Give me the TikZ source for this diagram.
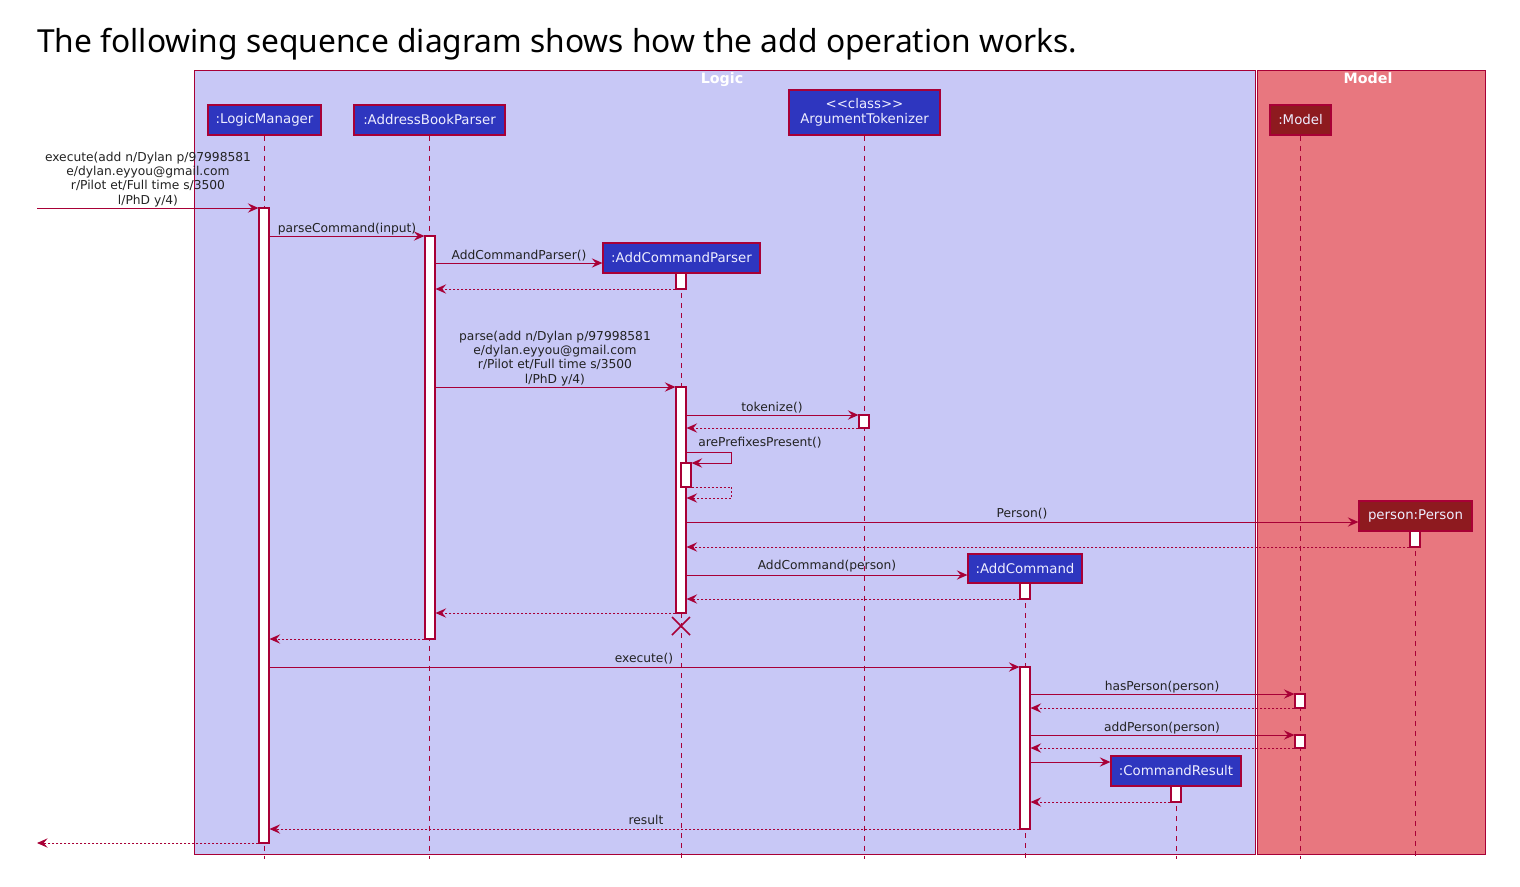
\documentclass[tikz,border=0pt]{standalone}
\usepackage{fontspec}
\setmainfont{DejaVu Sans}
\newfontfamily\titlefont{Noto Sans}
\usetikzlibrary{arrows.meta}
\definecolor{crim}{HTML}{A80036}
\definecolor{logicfill}{HTML}{C8C8F6}
\definecolor{modelfill}{HTML}{E8777F}
\definecolor{partblue}{HTML}{2E36BF}
\definecolor{partred}{HTML}{8E1A1F}
\definecolor{parttext}{HTML}{EEEEFF}
\definecolor{msgtext}{HTML}{222222}
\tikzset{
  frame/.style={draw=crim, line width=0.6pt, inner sep=0},
  framelbl/.style={text=white, font=\bfseries\fontsize{10.7}{12}\selectfont, inner sep=0, anchor=base},
  part/.style={draw=crim, fill=partblue, text=parttext, font=\fontsize{10}{11.5}\selectfont, inner sep=0, line width=0.9pt, align=center},
  actbox/.style={draw=crim, fill=white, minimum width=7.5pt, inner sep=0, line width=0.8pt},
  life/.style={crim, line width=0.75pt, dash pattern=on 3.75pt off 3.75pt},
  msg/.style={crim, line width=0.75pt, -{Stealth[length=8pt,width=7pt,inset=3pt]}},
  ret/.style={msg, dash pattern=on 1.5pt off 1.5pt},
  lbl/.style={font=\fontsize{9.2}{10.7}\selectfont, text=msgtext, inner sep=0, anchor=base, align=center},
  destroy/.style={crim, line width=1.2pt},
}
\newcommand\boxnode[7]{\node[#1, minimum width={(#5-#3)*0.75pt}, minimum height={(#6-#4)*0.75pt}] (#2) at ({(#3+#5)/2},{(#4+#6)/2}) {#7};}
\newcommand\act[4]{\node[actbox, minimum height={(#4-#3)*0.75pt}] (#1) at (#2,{(#3+#4)/2}) {};}
\begin{document}
\begin{tikzpicture}[x=0.75pt,y=-0.75pt]
\useasboundingbox (0,0) rectangle (1520,886);
% title
\node[anchor=base west, inner sep=0, font=\titlefont\fontsize{23.8}{28}\selectfont] (title) at (37,52) {The following sequence diagram shows how the add operation works.};
% frames
\boxnode{frame, fill=logicfill}{logicbox}{194}{70}{1255}{854}{}
\boxnode{frame, fill=modelfill}{modelbox}{1257}{70}{1485}{854}{}
\node[framelbl] (logiclbl) at (722,83) {Logic};
\node[framelbl] (modellbl) at (1368,83) {Model};
% participants
\boxnode{part}{pLM}{208}{105}{321}{135}{:LogicManager}
\boxnode{part}{pABP}{354}{105}{505}{135}{:AddressBookParser}
\boxnode{part}{pTok}{789}{90}{940}{135}{<\kern0pt<class>\kern0pt>\\ArgumentTokenizer}
\boxnode{part, fill=partred}{pModel}{1270}{105}{1331}{135}{:Model}
% lifelines
\draw[life] (pLM.south) -- (pLM.south |- 0,859);
\draw[life] (pABP.south) -- (pABP.south |- 0,859);
\draw[life] (pTok.south) -- (pTok.south |- 0,859);
\draw[life] (pModel.south) -- (pModel.south |- 0,859);
\draw[life] (681,273) -- (681,859);
\draw[life] (1025,583) -- (1025,859);
\draw[life] (1176,786) -- (1176,859);
\draw[life] (1415,531) -- (1415,859);
% created participants
\boxnode{part}{pACP}{603}{243}{760}{273}{:AddCommandParser}
\boxnode{part}{pAC}{968}{554}{1082}{583}{:AddCommand}
\boxnode{part}{pCR}{1111}{756}{1241}{786}{:CommandResult}
\boxnode{part, fill=partred}{pPerson}{1359}{501}{1472}{531}{person:Person}
% activations
\act{aLM}{264}{208}{843}
\act{aABP}{430}{236}{639}
\act{aACP1}{681}{273}{289}
\act{aACP2}{681}{387}{613}
\act{aSelf}{686}{463}{487}
\act{aTok}{864}{415}{428}
\act{aPerson}{1415}{531}{547}
\act{aAC1}{1025}{583}{599}
\act{aAC2}{1025}{667}{829}
\act{aM1}{1300}{694}{708}
\act{aM2}{1300}{735}{748}
\act{aCR}{1176}{786}{802}
% external ends
\coordinate (extIn) at (37,208);
\coordinate (extOut) at (37,843);
% messages
\draw[msg] (extIn) -- (aLM.west |- extIn);
\node[lbl] (l1) at (148,204) {execute(add n/Dylan p/97998581\\e/dylan.eyyou@gmail.com\\r/Pilot et/Full time s/3500\\l/PhD y/4)};
\draw[msg] (aLM.east |- 0,236) -- (aABP.west |- 0,236);
\node[lbl] (l2) at (347,232) {parseCommand(input)};
\draw[msg] (aABP.east |- 0,263) -- (pACP.west |- 0,263);
\node[lbl] (l3) at (519,259) {AddCommandParser()};
\draw[ret] (aACP1.west |- 0,289) -- (aABP.east |- 0,289);
\draw[msg] (aABP.east |- 0,387) -- (aACP2.west |- 0,387);
\node[lbl] (l5) at (555,383) {parse(add n/Dylan p/97998581\\e/dylan.eyyou@gmail.com\\r/Pilot et/Full time s/3500\\l/PhD y/4)};
\draw[msg] (aACP2.east |- 0,415) -- (aTok.west |- 0,415);
\node[lbl] (l6) at (772,411) {tokenize()};
\draw[ret] (aTok.west |- 0,428) -- (aACP2.east |- 0,428);
\draw[msg] (aACP2.east |- 0,452) -- ++(45,0) -- ++(0,11) -- (aSelf.east |- 0,463);
\node[lbl, anchor=base west] (l8) at (698,446) {arePrefixesPresent()};
\draw[ret] (aSelf.east |- 0,487) -- ++(40,0) -- ++(0,11) -- (aACP2.east |- 0,498);
\draw[msg] (aACP2.east |- 0,522) -- (pPerson.west |- 0,522);
\node[lbl] (l10) at (1022,517) {Person()};
\draw[ret] (aPerson.west |- 0,547) -- (aACP2.east |- 0,547);
\draw[msg] (aACP2.east |- 0,575) -- (pAC.west |- 0,575);
\node[lbl] (l12) at (827,569) {AddCommand(person)};
\draw[ret] (aAC1.west |- 0,599) -- (aACP2.east |- 0,599);
\draw[ret] (aACP2.west |- 0,613) -- (aABP.east |- 0,613);
\coordinate (xc) at (681,626);
\draw[destroy] (xc) ++(-9,-9) -- ++(18,18);
\draw[destroy] (xc) ++(-9,9) -- ++(18,-18);
\draw[ret] (aABP.west |- 0,639) -- (aLM.east |- 0,639);
\draw[msg] (aLM.east |- 0,667) -- (aAC2.west |- 0,667);
\node[lbl] (l17) at (644,662) {execute()};
\draw[msg] (aAC2.east |- 0,694) -- (aM1.west |- 0,694);
\node[lbl] (l18) at (1162,690) {hasPerson(person)};
\draw[ret] (aM1.west |- 0,708) -- (aAC2.east |- 0,708);
\draw[msg] (aAC2.east |- 0,735) -- (aM2.west |- 0,735);
\node[lbl] (l20) at (1162,731) {addPerson(person)};
\draw[ret] (aM2.west |- 0,748) -- (aAC2.east |- 0,748);
\draw[msg] (aAC2.east |- 0,762) -- (pCR.west |- 0,762);
\draw[ret] (aCR.west |- 0,802) -- (aAC2.east |- 0,802);
\draw[ret] (aAC2.west |- 0,829) -- (aLM.east |- 0,829);
\node[lbl] (l24) at (646,824) {result};
\draw[ret] (aLM.west |- extOut) -- (extOut);
\end{tikzpicture}
\end{document}
